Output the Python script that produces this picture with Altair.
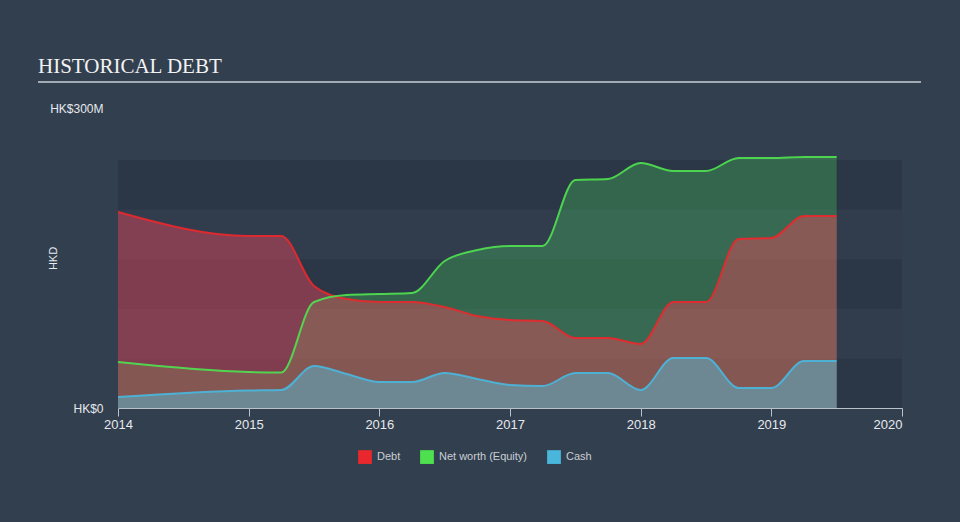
import altair as alt
import pandas as pd

# ---- data ----
years = [2014.0, 2015.0, 2015.25, 2015.5, 2015.75, 2016.0, 2016.25, 2016.5, 2016.75,
         2017.0, 2017.25, 2017.5, 2017.75, 2018.0, 2018.25, 2018.5, 2018.75, 2019.0,
         2019.25, 2019.5]
debt = [196, 172, 172, 122, 109, 106, 106, 101, 92, 88, 87, 70, 70, 64, 106, 106,
        169, 170, 192, 192]
net_worth = [46, 36, 35.5, 106, 113, 114, 115, 147, 158, 162, 162, 228, 229, 245,
             237, 237, 250, 250, 251, 251]
cash = [11, 17.5, 18, 42, 34, 26, 26, 35, 29, 23, 22, 35, 35, 18, 50, 50, 20, 20,
        47, 47]
series_names = ["Debt", "Net worth (Equity)", "Cash"]
series_colors = ["#e8282c", "#4fe04f", "#4ab6dc"]
x_ticks = [2014, 2015, 2016, 2017, 2018, 2019, 2020]
y_ticks = [0, 300]
band_edges = [0, 49.6, 99.2, 148.8, 198.4, 248]

rows = []
for name, vals in zip(series_names, [debt, net_worth, cash]):
    for yr, v in zip(years, vals):
        rows.append({"series": name, "year": yr, "value": v})
df = pd.DataFrame(rows)

bands = pd.DataFrame({
    "lo": band_edges[:-1],
    "hi": band_edges[1:],
    "i": list(range(len(band_edges) - 1)),
})

FONT = "Liberation Sans"
xscale = alt.Scale(domain=[2014, 2020], nice=False, zero=False)
yscale = alt.Scale(domain=[0, 300], nice=False)
cscale = alt.Scale(domain=series_names, range=series_colors)

x_axis = alt.Axis(
    values=x_ticks, format="d", title=None, grid=False,
    domainColor="#b9c1ca", tickColor="#b9c1ca", tickSize=8,
    labelColor="#e6e9ed", labelFont=FONT, labelFontSize=13, labelPadding=2,
    labelAlign=alt.ExprRef("datum.value == 2020 ? 'right' : 'center'"),
)
y_axis = alt.Axis(
    values=y_ticks, grid=False, ticks=False, domain=False,
    labelExpr="datum.value == 0 ? 'HK$0' : 'HK$' + datum.value + 'M'",
    labelColor="#e6e9ed", labelFont=FONT, labelFontSize=12, labelPadding=15,
    title="HKD", titleColor="#e6e9ed", titleFont=FONT, titleFontSize=11,
    titleFontWeight="normal", titleX=-60, titleY=150,
)

band_layer = alt.Chart(bands).mark_rect().encode(
    x=alt.datum(2014, scale=xscale, axis=x_axis),
    x2=alt.datum(2020),
    y=alt.Y("lo:Q", scale=yscale, axis=y_axis),
    y2="hi:Q",
    fill=alt.condition("datum.i % 2 == 0", alt.value("#2b3746"), alt.value("#313d4d")),
)

pos = alt.Chart(df).encode(
    x=alt.X("year:Q", scale=xscale, axis=x_axis),
    y=alt.Y("value:Q", scale=yscale, axis=y_axis),
)

area_nw = pos.transform_filter(alt.datum.series == "Net worth (Equity)").mark_area(
    interpolate="monotone", fill="#4fe060", fillOpacity=0.27)
area_debt = pos.transform_filter(alt.datum.series == "Debt").mark_area(
    interpolate="monotone", fill="#f5465c", fillOpacity=0.42)
area_cash = pos.transform_filter(alt.datum.series == "Cash").mark_area(
    interpolate="monotone", fill="#4fc3e3", fillOpacity=0.45)

lines = pos.mark_line(interpolate="monotone", strokeWidth=2, strokeOpacity=0.92).encode(
    color=alt.Color("series:N", scale=cscale, legend=None)
)

legend_layer = alt.Chart(df).mark_square(size=0, filled=True, opacity=1).encode(
    x=alt.X("year:Q", scale=xscale, axis=x_axis),
    y=alt.Y("value:Q", scale=yscale, axis=y_axis),
    color=alt.Color(
        "series:N",
        scale=cscale,
        legend=alt.Legend(
            title=None, orient="none", direction="horizontal",
            legendX=240, legendY=342,
            symbolType="square", symbolSize=190,
            symbolStrokeWidth=0, symbolOpacity=1,
            labelColor="#c9ced4", labelFont=FONT, labelFontSize=11,
            labelOffset=5, columnPadding=19,
        ),
    ),
)

underline = alt.Chart(alt.Data(values=[{}])).mark_rule(
    color="#a3abb4", strokeWidth=2
).encode(x=alt.value(-80), x2=alt.value(803), y=alt.value(-26))

chart = alt.layer(
    band_layer, area_nw, area_debt, area_cash, lines, legend_layer, underline
).resolve_scale(color="independent").resolve_legend(color="independent").properties(
    width=784, height=300,
    title=alt.TitleParams(
        "HISTORICAL DEBT", anchor="start", frame="group", font="Liberation Serif",
        fontSize=21, fontWeight="normal", color="#f2f2f2", dx=-80, offset=4,
    ),
    autosize=alt.AutoSizeParams(type="none"),
    padding={"left": 118, "top": 108, "right": 58, "bottom": 114},
    background="#323f4f",
).configure_view(stroke=None)

chart.save("out.html", embed_options={"renderer": "svg", "actions": False})
